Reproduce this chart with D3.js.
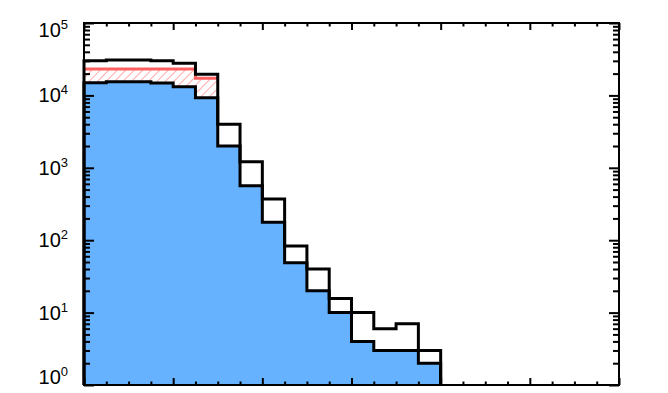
<html>
	<head>
		<meta charset="utf-8">
		<script src="https://d3js.org/d3.v7.min.js"></script>
	<style>
		body { margin: 0; background: #fff; }
		text { font-family: 'Liberation Sans', Arial, sans-serif; }
	</style>
	</head>
	<body>
		<svg id="svg" width="668" height="393"></svg>
	<script>
'use strict';

const width = 668;
const height = 393;
const margin = {top: 23, right: 49, bottom: 8, left: 84};

// histogram bins: left edge of bin i is i * bin_width
const bin_width = 0.25;
const total_counts = [30200, 30800, 30800, 30200, 27700, 19600, 4000, 1210, 370, 83, 40, 15.7, 10, 6, 7, 3];
const selected_counts = [15000, 15400, 15400, 14800, 13200, 9300, 2000, 566, 177, 49, 20, 10, 4, 3, 3, 2];
const red_counts = [23200, 23200, 23200, 23200, 23200, 17200];
const y_decades = [0, 1, 2, 3, 4, 5];

const x = d3.scaleLinear().domain([0, 6]).range([margin.left, width - margin.right]);
const y = d3.scaleLog().domain([1, 1e5]).range([height - margin.bottom, margin.top]).clamp(true);

const svg = d3.select('#svg');

const defs = svg.append('defs');
defs.append('pattern')
	.attr('id', 'hatch')
	.attr('patternUnits', 'userSpaceOnUse')
	.attr('width', 6)
	.attr('height', 6)
	.attr('patternTransform', 'rotate(45)')
	.append('line')
	.attr('x1', 0).attr('y1', 0)
	.attr('x2', 0).attr('y2', 6)
	.attr('stroke', '#ff7070')
	.attr('stroke-width', 1.2);

function step_points(counts) {
	const pts = [];
	counts.forEach((c, i) => {
		pts.push([x(i * bin_width), y(c)]);
		pts.push([x((i + 1) * bin_width), y(c)]);
	});
	return pts;
}

const line = d3.line();

// blue filled histogram
const blue_pts = step_points(selected_counts);
const area_pts = [[x(0), y(1)]].concat(blue_pts, [[x(selected_counts.length * bin_width), y(1)]]);
svg.append('path')
	.attr('d', line(area_pts) + 'Z')
	.attr('fill', '#66b2ff');

// hatched band between red line and blue top
const band = d3.area()
	.x(d => d[0])
	.y0(d => d[2])
	.y1(d => d[1]);
const band_pts = [];
red_counts.forEach((c, i) => {
	band_pts.push([x(i * bin_width), y(c), y(selected_counts[i])]);
	band_pts.push([x((i + 1) * bin_width), y(c), y(selected_counts[i])]);
});
svg.append('path')
	.attr('d', band(band_pts))
	.attr('fill', 'url(#hatch)');

svg.append('path')
	.attr('d', line(step_points(red_counts)))
	.attr('fill', 'none')
	.attr('stroke', '#ff6060')
	.attr('stroke-width', 3);

// blue outline
svg.append('path')
	.attr('d', line(area_pts))
	.attr('fill', 'none')
	.attr('stroke', '#000')
	.attr('stroke-width', 3);

// total outline
const tot_pts = [[x(0), y(1)]].concat(step_points(total_counts), [[x(total_counts.length * bin_width), y(1)]]);
svg.append('path')
	.attr('d', line(tot_pts))
	.attr('fill', 'none')
	.attr('stroke', '#000')
	.attr('stroke-width', 3);

// axes
const x_major = d3.range(0, 7, 1);
const x_minor = d3.range(0, 6.01, 0.25).filter(v => Math.abs(v - Math.round(v)) > 1e-6);
const y_minor = [];
for (let e = 0; e < 5; e++) {
	for (let m = 2; m < 10; m++) {
		y_minor.push(m * Math.pow(10, e));
	}
}

const axis_left = d3.axisLeft(y).tickValues(y_decades.map(e => Math.pow(10, e))).tickSize(-10).tickFormat('');
const axis_left_minor = d3.axisLeft(y).tickValues(y_minor).tickSize(-6).tickFormat('');
const axis_right = d3.axisRight(y).tickValues(y_decades.map(e => Math.pow(10, e))).tickSize(-10).tickFormat('');
const axis_right_minor = d3.axisRight(y).tickValues(y_minor).tickSize(-6).tickFormat('');
const axis_bottom = d3.axisBottom(x).tickValues(x_major).tickSize(-7).tickFormat('');
const axis_bottom_minor = d3.axisBottom(x).tickValues(x_minor).tickSize(-3.5).tickFormat('');
const axis_top = d3.axisTop(x).tickValues(x_major).tickSize(-7).tickFormat('');
const axis_top_minor = d3.axisTop(x).tickValues(x_minor).tickSize(-3.5).tickFormat('');

const lx = margin.left, rx = width - margin.right;
const ty = margin.top, by = height - margin.bottom;
function add_axis(ax, tx, tyy) {
	const g = svg.append('g').attr('transform', `translate(${tx},${tyy})`).call(ax);
	g.select('.domain').remove();
	g.selectAll('line').attr('stroke', '#000').attr('stroke-width', 2);
}
add_axis(axis_left, lx, 0);
add_axis(axis_left_minor, lx, 0);
add_axis(axis_right, rx, 0);
add_axis(axis_right_minor, rx, 0);
add_axis(axis_bottom, 0, by);
add_axis(axis_bottom_minor, 0, by);
add_axis(axis_top, 0, ty);
add_axis(axis_top_minor, 0, ty);

svg.append('rect')
	.attr('x', lx).attr('y', ty)
	.attr('width', rx - lx).attr('height', by - ty)
	.attr('fill', 'none')
	.attr('stroke', '#000')
	.attr('stroke-width', 2);

// y tick labels 10^n
const labels = svg.append('g');
for (const e of y_decades) {
	const cy = Math.max(ty + 7, Math.min(by - 8, y(Math.pow(10, e))));
	const t = labels.append('text')
		.attr('x', 68)
		.attr('y', cy + 7)
		.attr('text-anchor', 'end')
		.attr('font-size', 20)
		.attr('fill', '#000');
	t.append('tspan').text('10');
	t.append('tspan').attr('dy', -8).attr('font-size', 13).text(e);
}
	</script>
	</body>
</html>
